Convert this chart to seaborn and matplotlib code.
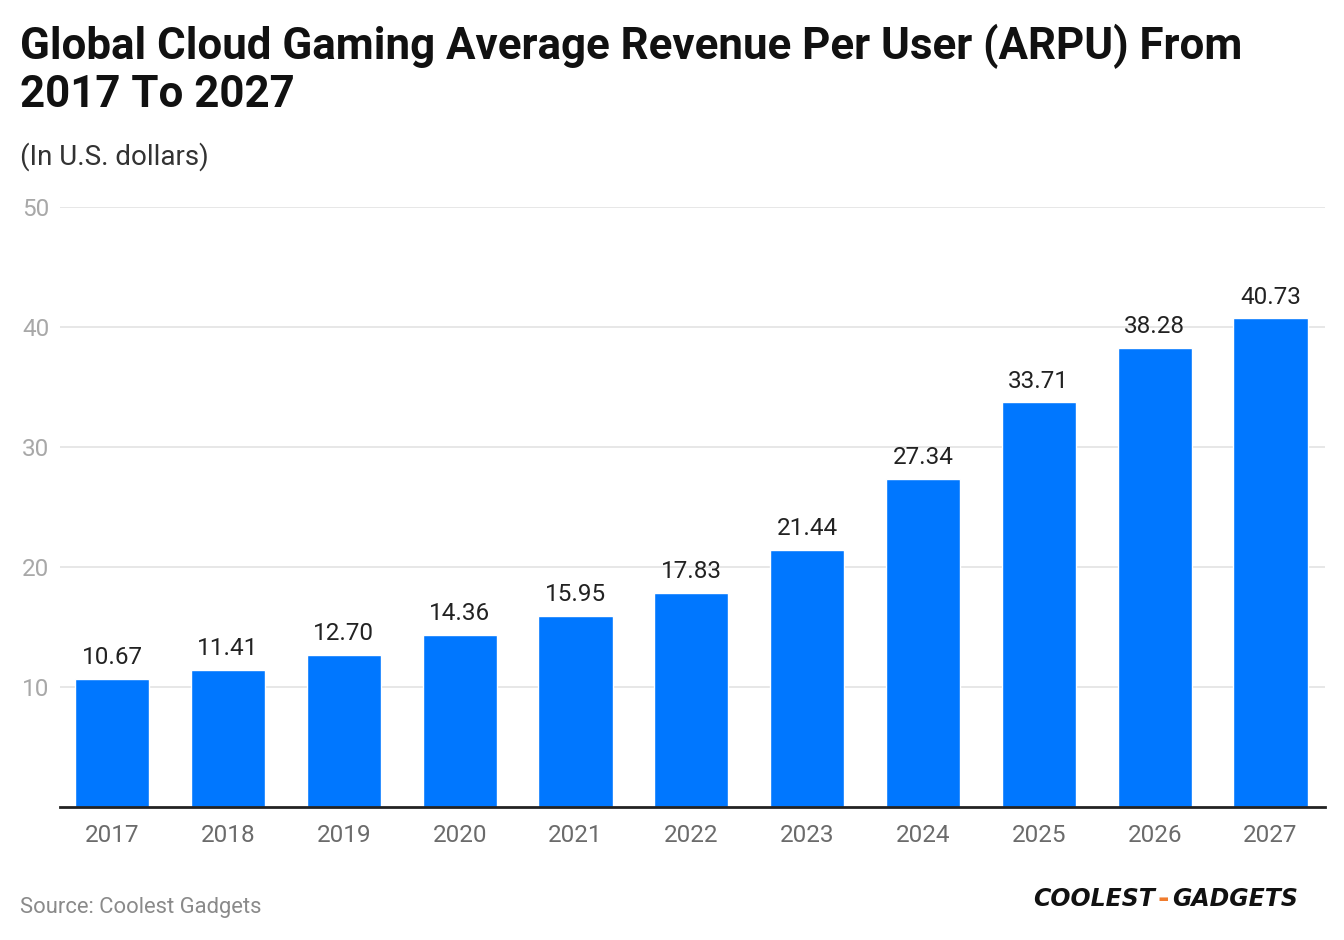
import seaborn as sns
import matplotlib.pyplot as plt
import pandas as pd

# data
years = ['2017', '2018', '2019', '2020', '2021', '2022', '2023', '2024', '2025', '2026', '2027']
arpu = [10.67, 11.41, 12.70, 14.36, 15.95, 17.83, 21.44, 27.34, 33.71, 38.28, 40.73]
yticks = [10, 20, 30, 40, 50]

df = pd.DataFrame({'year': years, 'arpu': arpu})

sns.set_style('white')
plt.rcParams['font.family'] = ['Roboto', 'DejaVu Sans']

fig = plt.figure(figsize=(13.44, 9.40), dpi=100)
ax = fig.add_axes([60 / 1344, 133 / 940, 1265 / 1344, 600 / 940])

sns.barplot(data=df, x='year', y='arpu', color='#0077FF', saturation=1, width=0.64, ax=ax)

ax.set_xlim(-0.45, 10.47)
ax.set_ylim(0, 50)
ax.set_yticks(yticks)
ax.set_yticklabels([str(t) for t in yticks])
ax.yaxis.grid(True, color='#e3e3e3', linewidth=1.2)
ax.set_axisbelow(True)
for s in ['top', 'right', 'left']:
    ax.spines[s].set_visible(False)
ax.spines['bottom'].set_color('#222222')
ax.spines['bottom'].set_linewidth(2)
ax.set_xlabel('')
ax.set_ylabel('')
ax.tick_params(axis='x', length=0, pad=12, labelsize=17.5, labelcolor='#6b6b6b')
ax.tick_params(axis='y', length=0, pad=0, labelsize=17.5, labelcolor='#a8a8a8')
for lbl in ax.get_yticklabels():
    lbl.set_horizontalalignment('left')
    lbl.set_x(-38 / 1265)

# value labels
for i, v in enumerate(arpu):
    ax.annotate(f'{v:.2f}', (i, v), xytext=(0, 7), textcoords='offset points',
                ha='center', va='bottom', fontsize=17.5, color='#222222')

fig.text(20 / 1344, 1 - 24 / 940, 'Global Cloud Gaming Average Revenue Per User (ARPU) From\n2017 To 2027',
         fontsize=31.6, fontweight='bold', color='#111111', va='top', ha='left', linespacing=1.16)
fig.text(20 / 1344, 1 - 157 / 940, '(In U.S. dollars)', fontsize=20, color='#333333', va='center')
fig.text(20 / 1344, 1 - 907 / 940, 'Source: Coolest Gadgets', fontsize=15.8, color='#8a8a8a', va='center')

# logo
logo_y = 1 - 899 / 940
fig.text(1155 / 1344, logo_y, 'COOLEST', fontsize=17, fontweight='heavy', style='italic',
         color='#111111', va='center', ha='right', family='DejaVu Sans')
fig.text(1163 / 1344, logo_y, '-', fontsize=20, fontweight='heavy',
         color='#f07c2e', va='center', ha='center', family='DejaVu Sans')
fig.text(1172 / 1344, logo_y, 'GADGETS', fontsize=17, fontweight='heavy', style='italic',
         color='#111111', va='center', ha='left', family='DejaVu Sans')

fig.savefig('out.png', dpi=100, facecolor='white')
